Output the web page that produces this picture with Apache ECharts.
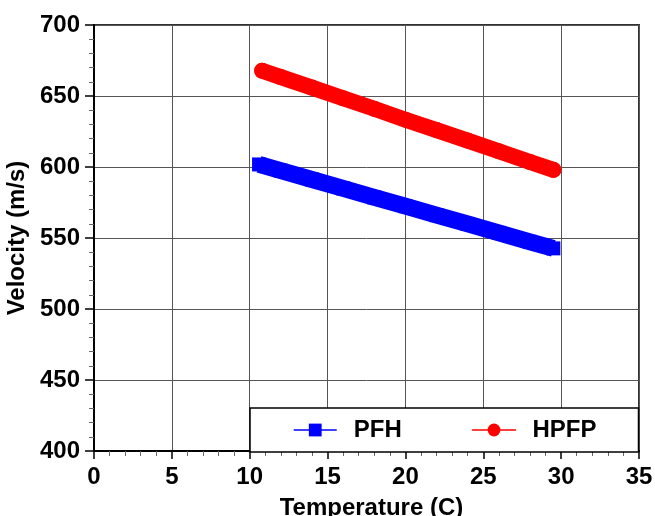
<!DOCTYPE html>
<html>
<head>
<meta charset="utf-8">
<script src="https://cdn.jsdelivr.net/npm/echarts@6/dist/echarts.min.js"></script>
<style>
html,body{margin:0;padding:0;background:#fff;}
#chart{width:655px;height:516px;}
</style>
</head>
<body>
<div id="chart"></div>
<script>
// Data
const pfhTemp = [10.6, 12, 14, 16, 18, 20, 22, 24, 26, 28, 29.5];
const pfhVel  = [601.8, 597.4, 591.2, 584.9, 578.6, 572.4, 566.1, 559.9, 553.6, 547.3, 542.7];
const hpfpTemp = [10.8, 12, 14, 16, 18, 20, 22, 24, 26, 28, 29.5];
const hpfpVel  = [667.8, 663.3, 655.9, 648.4, 641.0, 633.3, 626.0, 618.6, 611.1, 603.5, 598.0];
const seriesNames = ['PFH', 'HPFP'];
const xTicks = [0, 35, 5];   // min, max, interval
const yTicks = [400, 700, 50];

const FONT = 'Liberation Sans, Arial, Helvetica, sans-serif';
const pairs = (xs, ys) => xs.map((x, i) => [x, ys[i]]);

const chart = echarts.init(document.getElementById('chart'), null, {renderer: 'canvas'});
chart.setOption({
  animation: false,
  backgroundColor: '#fff',
  grid: {
    left: 94, right: 16, top: 25, bottom: 65,
    containLabel: false, outerBoundsMode: 'none',
    show: true, borderColor: '#333', borderWidth: 2, backgroundColor: 'transparent'
  },
  xAxis: {
    type: 'value', min: xTicks[0], max: xTicks[1], interval: xTicks[2],
    name: 'Temperature (C)', nameLocation: 'middle', nameGap: 45,
    nameTextStyle: {fontFamily: FONT, fontWeight: 'bold', fontSize: 24, color: '#000', padding: [0, 0, 0, 10]},
    axisLine: {show: true, lineStyle: {color: '#000', width: 2}},
    axisTick: {show: true, inside: false, length: 8, lineStyle: {color: '#000', width: 1.5}},
    minorTick: {show: true, splitNumber: 5, length: 5, lineStyle: {color: '#666', width: 1}},
    splitLine: {show: true, lineStyle: {color: '#555', width: 1}},
    axisLabel: {fontFamily: FONT, fontWeight: 'bold', fontSize: 24, color: '#000', margin: 14}
  },
  yAxis: {
    type: 'value', min: yTicks[0], max: yTicks[1], interval: yTicks[2],
    name: 'Velocity (m/s)', nameLocation: 'middle', nameGap: 59,
    nameTextStyle: {fontFamily: FONT, fontWeight: 'bold', fontSize: 24, color: '#000'},
    axisLine: {show: true, lineStyle: {color: '#000', width: 2}},
    axisTick: {show: true, inside: false, length: 9, lineStyle: {color: '#000', width: 1.5}},
    minorTick: {show: true, splitNumber: 5, length: 5, lineStyle: {color: '#666', width: 1}},
    splitLine: {show: true, lineStyle: {color: '#555', width: 1}},
    axisLabel: {fontFamily: FONT, fontWeight: 'bold', fontSize: 24, color: '#000', margin: 14}
  },
  legend: {
    left: 250, top: 408,
    orient: 'horizontal',
    backgroundColor: '#fff',
    borderColor: '#000', borderWidth: 1.5, borderRadius: 0,
    padding: [10, 42, 10, 43],
    itemWidth: 43, itemHeight: 16, itemGap: 70,
    lineStyle: {width: 1.5},
    textStyle: {fontFamily: FONT, fontWeight: 'bold', fontSize: 24, color: '#000', padding: [0, 0, 0, 12]},
    data: seriesNames
  },
  series: [
    {
      name: seriesNames[0], type: 'line',
      data: pairs(pfhTemp, pfhVel),
      color: '#0000ff',
      lineStyle: {color: '#0000ff', width: 17, cap: 'butt', join: 'round'},
      symbol: 'rect', symbolSize: 14, showSymbol: true,
      itemStyle: {color: '#0000ff', borderWidth: 0},
      z: 3
    },
    {
      name: seriesNames[1], type: 'line',
      data: pairs(hpfpTemp, hpfpVel),
      color: '#ff0000',
      lineStyle: {color: '#ff0000', width: 16, cap: 'round', join: 'round'},
      symbol: 'circle', symbolSize: 16, showSymbol: true,
      itemStyle: {color: '#ff0000', borderWidth: 0},
      z: 3
    }
  ]
});
</script>
</body>
</html>
